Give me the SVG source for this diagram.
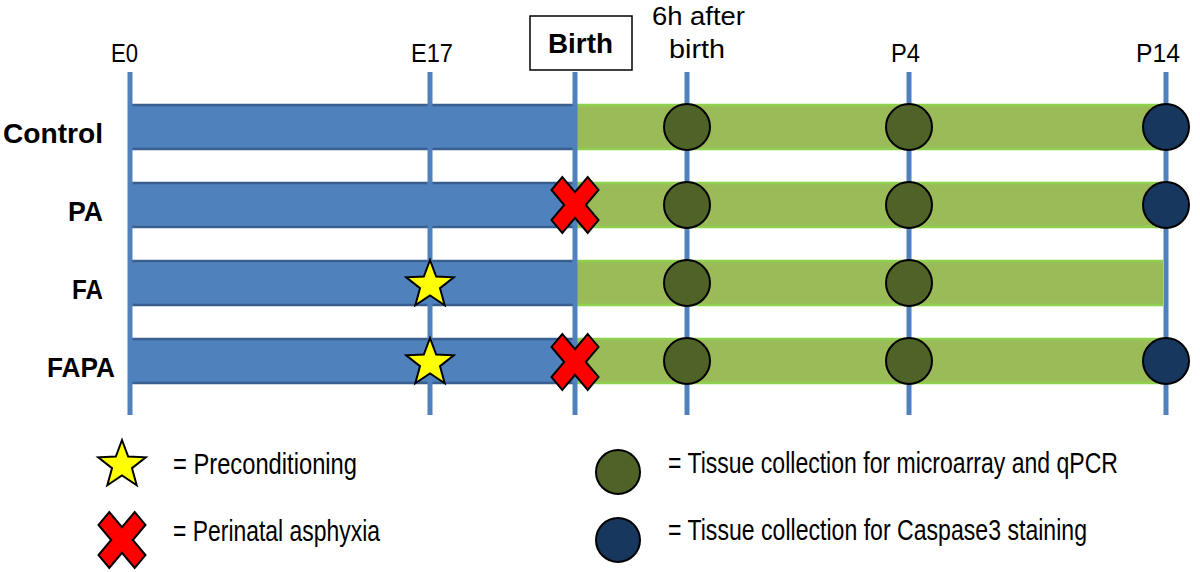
<svg xmlns="http://www.w3.org/2000/svg" xmlns:xlink="http://www.w3.org/1999/xlink" width="1200" height="572" viewBox="0 0 1200 572">
<style>
.t{font-family:"Liberation Sans",Arial,sans-serif;fill:#000}
.h{font-size:25px}
.h2{font-size:26px}
.lg{font-size:24px}
.b{font-size:28px;font-weight:bold}
.vl{stroke:#4F81BD;stroke-width:5}
.blue{fill:#4F81BD}
.bedge{stroke:#3A5F8E;stroke-width:2.5}
.green{fill:#9BBB59}
.gedge{stroke:#8FD14F;stroke-width:2.5}
.olive{fill:#4F6228;stroke:#000;stroke-width:2}
.navy{fill:#17375E;stroke:#000;stroke-width:2}
.star{fill:#FFFF00;stroke:#000;stroke-width:2;stroke-linejoin:miter}
.x{fill:#FF0000;stroke:#000;stroke-width:2;stroke-linejoin:miter}
</style>
<defs>
<polygon id="starShape" points="0,-25 6.17,-8.49 23.78,-7.73 9.99,3.24 14.69,20.23 0,10.5 -14.69,20.23 -9.99,3.24 -23.78,-7.73 -6.17,-8.49"/>
<polygon id="xShape" points="0,-12.9 12.7,-28 23.5,-15.1 10.8,0 23.5,15.1 12.7,28 0,12.9 -12.7,28 -23.5,15.1 -10.8,0 -23.5,-15.1 -12.7,-28"/>
</defs>

<!-- bars -->
<g id="bars">
  <g id="row-control">
    <rect class="blue" x="130" y="104" width="444" height="46"/>
    <line class="bedge" x1="130" y1="105" x2="574" y2="105"/>
    <line class="bedge" x1="130" y1="149" x2="574" y2="149"/>
    <rect class="green" x="577" y="104" width="589" height="46"/>
    <line class="gedge" x1="577" y1="105" x2="1166" y2="105"/>
    <line class="gedge" x1="577" y1="149" x2="1166" y2="149"/>
  </g>
  <g id="row-pa">
    <rect class="blue" x="130" y="182" width="444" height="46"/>
    <line class="bedge" x1="130" y1="183" x2="574" y2="183"/>
    <line class="bedge" x1="130" y1="227" x2="574" y2="227"/>
    <rect class="green" x="577" y="182" width="589" height="46"/>
    <line class="gedge" x1="577" y1="183" x2="1166" y2="183"/>
    <line class="gedge" x1="577" y1="227" x2="1166" y2="227"/>
  </g>
  <g id="row-fa">
    <rect class="blue" x="130" y="260" width="444" height="46"/>
    <line class="bedge" x1="130" y1="261" x2="574" y2="261"/>
    <line class="bedge" x1="130" y1="305" x2="574" y2="305"/>
    <rect class="green" x="577" y="260" width="586" height="46"/>
    <line class="gedge" x1="577" y1="261" x2="1163" y2="261"/>
    <line class="gedge" x1="577" y1="305" x2="1163" y2="305"/>
  </g>
  <g id="row-fapa">
    <rect class="blue" x="130" y="338" width="444" height="46"/>
    <line class="bedge" x1="130" y1="339" x2="574" y2="339"/>
    <line class="bedge" x1="130" y1="383" x2="574" y2="383"/>
    <rect class="green" x="577" y="338" width="589" height="46"/>
    <line class="gedge" x1="577" y1="339" x2="1166" y2="339"/>
    <line class="gedge" x1="577" y1="383" x2="1166" y2="383"/>
  </g>
</g>

<!-- timeline lines -->
<g id="connectors">
  <line class="vl" x1="130" y1="72" x2="130" y2="415"/>
  <line class="vl" x1="430" y1="72" x2="430" y2="415"/>
  <line class="vl" x1="575" y1="72" x2="575" y2="415"/>
  <line class="vl" x1="687" y1="72" x2="687" y2="415"/>
  <line class="vl" x1="909" y1="72" x2="909" y2="415"/>
  <line class="vl" x1="1166" y1="72" x2="1166" y2="415"/>
</g>

<!-- header labels -->
<g id="headers">
  <text class="t h" x="111" y="62" textLength="27" lengthAdjust="spacingAndGlyphs">E0</text>
  <text class="t h" x="411" y="62" textLength="42" lengthAdjust="spacingAndGlyphs">E17</text>
  <g id="birth-box">
    <rect x="530" y="16" width="102" height="54" fill="#fff" stroke="#000" stroke-width="1.5"/>
    <text class="t b" x="548" y="53" textLength="65" lengthAdjust="spacingAndGlyphs">Birth</text>
  </g>
  <text class="t h2" x="652" y="25" textLength="93" lengthAdjust="spacingAndGlyphs">6h after</text>
  <text class="t h2" x="669" y="58" textLength="56" lengthAdjust="spacingAndGlyphs">birth</text>
  <text class="t h" x="891" y="62" textLength="29" lengthAdjust="spacingAndGlyphs">P4</text>
  <text class="t h" x="1136" y="62" textLength="44" lengthAdjust="spacingAndGlyphs">P14</text>
</g>

<!-- row labels -->
<g id="row-labels">
  <text class="t b" x="3" y="143" textLength="100" lengthAdjust="spacingAndGlyphs">Control</text>
  <text class="t b" x="68" y="221" textLength="35" lengthAdjust="spacingAndGlyphs">PA</text>
  <text class="t b" x="72" y="299" textLength="31" lengthAdjust="spacingAndGlyphs">FA</text>
  <text class="t b" x="47" y="377" textLength="68" lengthAdjust="spacingAndGlyphs">FAPA</text>
</g>

<!-- markers -->
<g id="markers">
  <circle class="olive" cx="687" cy="127" r="23"/>
  <circle class="olive" cx="909" cy="127" r="23"/>
  <circle class="navy" cx="1166" cy="127" r="23"/>

  <use xlink:href="#xShape" class="x" x="575" y="205"/>
  <circle class="olive" cx="687" cy="205" r="23"/>
  <circle class="olive" cx="909" cy="205" r="23"/>
  <circle class="navy" cx="1166" cy="205" r="23"/>

  <use xlink:href="#starShape" class="star" x="430" y="285"/>
  <circle class="olive" cx="687" cy="283" r="23"/>
  <circle class="olive" cx="909" cy="283" r="23"/>

  <use xlink:href="#starShape" class="star" x="430" y="363"/>
  <use xlink:href="#xShape" class="x" x="575" y="362"/>
  <circle class="olive" cx="687" cy="361" r="23"/>
  <circle class="olive" cx="909" cy="361" r="23"/>
  <circle class="navy" cx="1166" cy="361" r="23"/>
</g>

<!-- legend -->
<g id="legend">
  <g id="legend-star">
    <use xlink:href="#starShape" class="star" x="122" y="465"/>
    <text class="t lg" transform="translate(173,474) scale(1,1.2)" x="0" y="0" textLength="184" lengthAdjust="spacingAndGlyphs">= Preconditioning</text>
  </g>
  <g id="legend-x">
    <use xlink:href="#xShape" class="x" x="122" y="540"/>
    <text class="t lg" transform="translate(173,541) scale(1,1.2)" x="0" y="0" textLength="207" lengthAdjust="spacingAndGlyphs">= Perinatal asphyxia</text>
  </g>
  <g id="legend-olive">
    <circle class="olive" cx="618" cy="472" r="22"/>
    <text class="t lg" transform="translate(668,473) scale(1,1.2)" x="0" y="0" textLength="450" lengthAdjust="spacingAndGlyphs">= Tissue collection for microarray and qPCR</text>
  </g>
  <g id="legend-navy">
    <circle class="navy" cx="618" cy="540" r="22"/>
    <text class="t lg" transform="translate(668,540) scale(1,1.2)" x="0" y="0" textLength="419" lengthAdjust="spacingAndGlyphs">= Tissue collection for Caspase3 staining</text>
  </g>
</g>
</svg>
